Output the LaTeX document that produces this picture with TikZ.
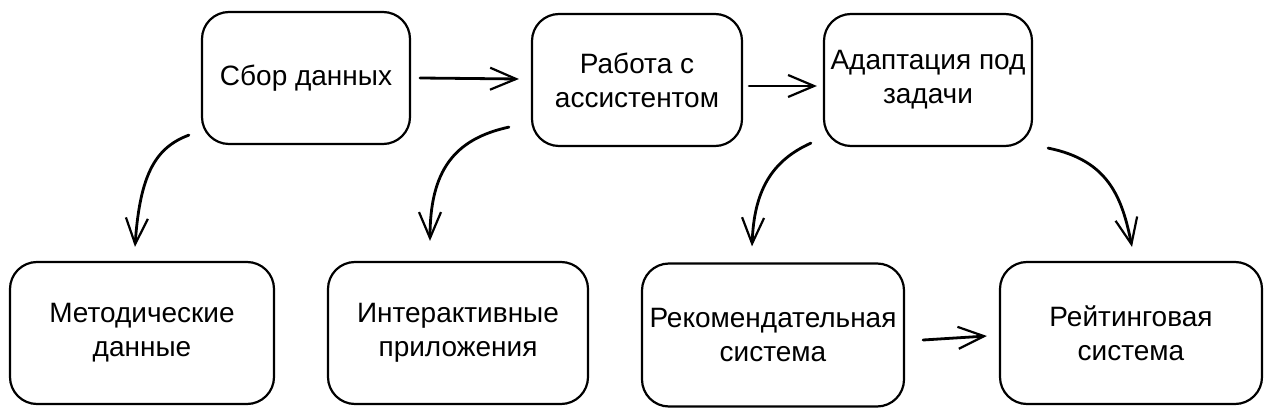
\documentclass[tikz,border=0pt]{standalone}
\usepackage{fontspec}
\setmainfont{Liberation Sans}
\usetikzlibrary{arrows.meta,calc}
\begin{document}
\begin{tikzpicture}[x=1pt,y=-1pt,
  box/.style={draw, line width=2.2pt, rounded corners=27pt, align=center, inner sep=0pt,
    font=\fontsize{28}{34}\selectfont},
  conn/.style={line width=2.8pt, line cap=round,
    -{Straight Barb[length=26pt,width=22pt,line width=2.2pt]}}]
\useasboundingbox (0,0) rectangle (1271,419);
\node[box, minimum width=208pt, minimum height=132pt] (b1) at (306,78) {Сбор данных};
\node[box, minimum width=210pt, minimum height=132pt] (b2) at (637,80) {Работа с\\ассистентом};
\node[box, minimum width=208pt, minimum height=132pt] (b3) at (928,80) {Адаптация под\\задачи};
\node[box, minimum width=264pt, minimum height=142pt] (b4) at (142,333) {Методические\\данные};
\node[box, minimum width=260pt, minimum height=142pt] (b5) at (458,333) {Интерактивные\\приложения};
\node[box, minimum width=262pt, minimum height=143pt] (b6) at (773,335) {Рекомендательная\\система};
\node[box, minimum width=262pt, minimum height=142pt] (b7) at (1131,333) {Рейтинговая\\система};
\draw[conn] ($(b1.east)+(9,0)$) -- ($(b2.west)+(-12,-1)$);
\draw[conn] ($(b2.east)+(6,6)$) -- ($(b3.west)+(-6,6)$);
\draw[conn] ($(b1.south west)+(-12,-10)$) .. controls +(-32,12) and +(5,-75) .. ($(b4.north)+(-7,-14)$);
\draw[conn] ($(b2.south west)+(-22,-20)$) .. controls +(-55,12) and +(0,-70) .. ($(b5.north)+(-28,-20)$);
\draw[conn] ($(b3.south west)+(-12,-4)$) .. controls +(-40,18) and +(2,-55) .. ($(b6.north)+(-21,-16)$);
\draw[conn] ($(b3.south east)+(15,1)$) .. controls +(60,12) and +(-10,-50) .. ($(b7.north)+(1,-14)$);
\draw[conn] ($(b6.east)+(18,5)$) -- ($(b7.west)+(-12,3)$);
\end{tikzpicture}
\end{document}
